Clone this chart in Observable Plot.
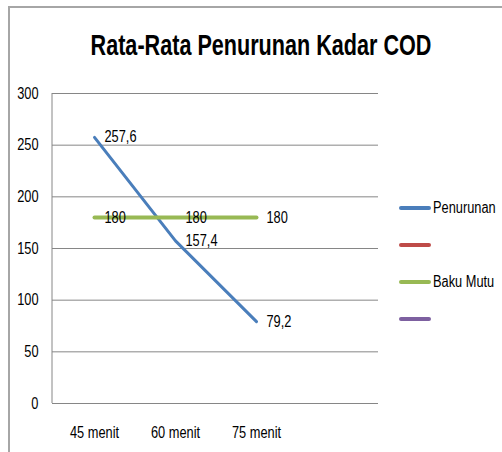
<!DOCTYPE html>
<html>
<head>
<meta charset="utf-8">
<script src="https://cdn.jsdelivr.net/npm/d3@7"></script>
<script src="https://cdn.jsdelivr.net/npm/@observablehq/plot@0.6"></script>
<style>
  html, body { margin: 0; padding: 0; background: #fff; }
  #wrap { position: relative; width: 502px; height: 452px; overflow: hidden; background: #fff;
    font-family: 'Liberation Sans', Arial, sans-serif; }
  #border { position: absolute; left: 8px; top: 6px; width: 600px; height: 600px;
    border-left: 2px solid #a6a6a6; border-top: 2px solid #a6a6a6; }
  #title { position: absolute; top: 27px; left: 261px; white-space: nowrap; font-weight: bold;
    font-size: 30px; line-height: 36px; color: #000; transform: translateX(-50%) scaleX(0.72); }
  #chart { position: absolute; left: 0; top: 80px; }
  #legend { position: absolute; left: 398px; top: 0; }
  .leg { position: absolute; left: 0; height: 20px; white-space: nowrap; font-size: 16px; color: #000; }
  .leg svg { vertical-align: middle; }
  .leg span { display: inline-block; vertical-align: middle; margin-left: 1px;
    transform: scaleX(0.8); transform-origin: left center; }
</style>
</head>
<body>
<div id="wrap">
  <div id="border"></div>
  <div id="title">Rata-Rata Penurunan Kadar COD</div>
  <div id="chart"></div>
  <div id="legend"></div>
</div>
<script>
// ---- data ----
const categories = ["45 menit", "60 menit", "75 menit", ""];
const penurunan = [257.6, 157.4, 79.2];
const bakuMutu = [180, 180, 180];
const yTicks = [0, 50, 100, 150, 200, 250, 300];
const seriesNames = ["Penurunan", "", "Baku Mutu", ""];
const seriesColors = ["#4A7EBB", "#BE4B48", "#98B954", "#7D60A0"];

const rows = (vals, name) => vals.map((v, i) => ({cat: categories[i], value: v, series: name}));
const pen = rows(penurunan, "Penurunan");
const baku = rows(bakuMutu, "Baku Mutu");
const fmt = v => String(v).replace(".", ",");
const FONT = "'Liberation Sans', Arial, sans-serif";

const leftLine = (index, scales, values, dim) => {
  const x = dim.marginLeft;
  return d3.create("svg:line")
    .attr("x1", x).attr("x2", x)
    .attr("y1", scales.y(300)).attr("y2", scales.y(0))
    .attr("stroke", "#868686").attr("stroke-width", 1).node();
};

const plot = Plot.plot({
  width: 390,
  height: 372,
  marginLeft: 52,
  marginRight: 12,
  marginTop: 13,
  marginBottom: 49,
  style: {fontFamily: FONT, fontSize: "16px", color: "#000", background: "transparent", overflow: "visible"},
  x: {type: "point", domain: categories, padding: 0.5, align: 0.5},
  y: {domain: [0, 300]},
  marks: [
    Plot.gridY(yTicks, {stroke: "#868686", strokeOpacity: 1, strokeWidth: 1}),
    leftLine,
    Plot.axisY(yTicks, {tickSize: 0, tickPadding: 14, fontSize: 16, label: null}),
    Plot.axisX({tickSize: 0, tickPadding: 23, fontSize: 16, label: null}),
    Plot.line(pen, {x: "cat", y: "value", stroke: seriesColors[0], strokeWidth: 3, strokeLinecap: "round"}),
    Plot.line(baku, {x: "cat", y: "value", stroke: seriesColors[2], strokeWidth: 4, strokeLinecap: "round"}),
    Plot.text(pen, {x: "cat", y: "value", text: d => fmt(d.value), textAnchor: "start", dx: 10, fill: "#000", fontSize: 16}),
    Plot.text(baku, {x: "cat", y: "value", text: d => fmt(d.value), textAnchor: "start", dx: 10, fill: "#000", fontSize: 16})
  ]
});
document.getElementById("chart").appendChild(plot);

// condense SVG text horizontally (narrow Calibri-like look)
plot.querySelectorAll("text").forEach(t => {
  const w = t.getComputedTextLength();
  if (w > 0) {
    t.setAttribute("textLength", (w * 0.8).toFixed(2));
    t.setAttribute("lengthAdjust", "spacingAndGlyphs");
  }
});

// legend
const legTops = [198, 235, 272, 309];
const legend = document.getElementById("legend");
seriesNames.forEach((name, i) => {
  const d = document.createElement("div");
  d.className = "leg";
  d.style.top = legTops[i] + "px";
  d.innerHTML = `<svg width="34" height="20"><line x1="3" x2="31" y1="10" y2="10" stroke="${seriesColors[i]}" stroke-width="4" stroke-linecap="round"/></svg><span>${name}</span>`;
  legend.appendChild(d);
});
</script>
</body>
</html>
